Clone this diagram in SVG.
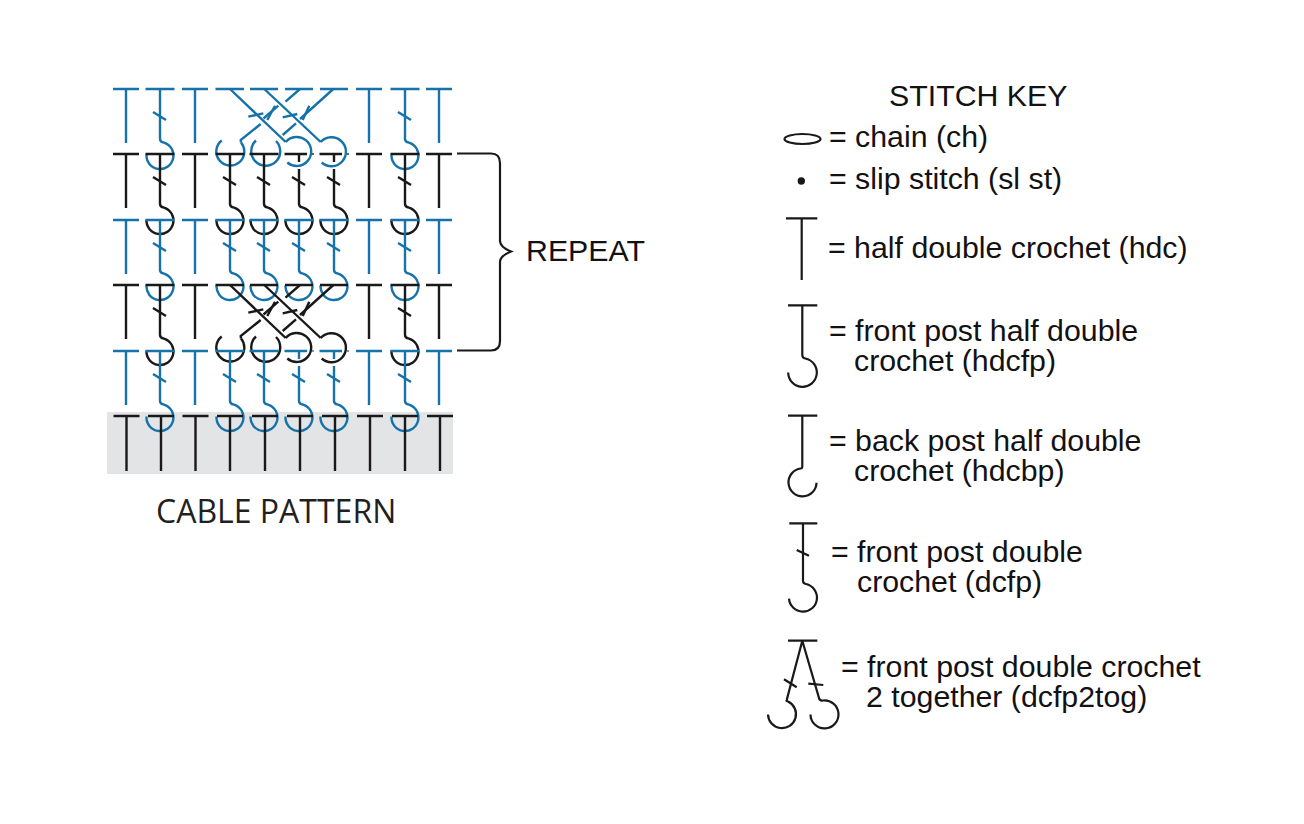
<svg xmlns="http://www.w3.org/2000/svg" width="1304" height="824" viewBox="0 0 1304 824">
<style>
.k{color:#1a1819}
.b{color:#1673a9}
.i{fill:none;stroke:currentColor;stroke-width:2.4}
.d{fill:currentColor;stroke:none}
.t{font-family:"Liberation Sans",Arial,sans-serif;font-size:30.3px;fill:#131112}
.m{font-family:"Open Sans","Noto Sans",sans-serif;font-size:32px;fill:#231f20}
.ink{fill:none;stroke:#1a1819;stroke-width:2.2}
</style>
<defs>
<g id="T"><path class="i" d="M-13 0H13M0 0V54"/></g>
<g id="F"><path class="i" d="M-14.500 0H14.500M0 0V50q0 3 4 3.600A13.500 13.500 0 1 1 -13.500 65.500M-7 23L6 31"/></g>
<g id="P"><path class="i" d="M0 0V55M-13 0H13"/></g>
<g id="H"><path class="i" d="M-14.500 0H8M0 0V8M0 15V50q0 3 4 3.600A13.500 13.500 0 1 1 -13.500 65.500M-7 23L6 31"/><circle class="d" cx="14" cy="0" r="0.900"/></g>
<g id="X">
<path class="i" d="M-14.500 0H14M20 0H48M55 0H83M90 0H118"/>
<path class="i" d="M0 0L55.700 53M34.300 0L90.700 53"/>
<path class="i" d="M70 0L55.500 12.700M48.300 16.700L33.500 29.500M30.700 35L10.700 51L11 53.500M103.300 0L70 30M66 34.300L52.700 46"/>
<path class="i" d="M18.300 27.700L33.300 24.300M37.300 31L45 16.700M52.700 28.300L67.300 25M72.700 31L79.300 16.700"/>
<path class="i" d="M-8.300 51.500A14 14 0 1 0 11 53.500M26 51.500A14.500 14.500 0 1 0 46 52"/>
<path class="i" d="M55.700 53A14.500 14.500 0 1 1 57.300 73.500M90.700 53A14.500 14.500 0 1 1 91.700 73.500"/>
</g>
</defs>
<rect width="1304" height="824" fill="#fff"/>
<rect id="swatch" x="107" y="412" width="346" height="62" fill="#e3e4e6"/>
<g id="chart">
<g id="row-1" class="b"><use href="#T" x="126" y="89"/><use href="#F" x="160" y="89"/><use href="#T" x="195" y="89"/><use href="#X" x="230" y="89"/><use href="#T" x="369" y="89"/><use href="#F" x="405" y="89"/><use href="#T" x="439" y="89"/></g>
<g id="row-2" class="k"><use href="#T" x="126" y="154"/><use href="#F" x="160" y="154"/><use href="#T" x="195" y="154"/><use href="#F" x="230" y="154"/><use href="#F" x="264" y="154"/><use href="#H" x="299" y="154"/><use href="#H" x="334" y="154"/><use href="#T" x="369" y="154"/><use href="#F" x="405" y="154"/><use href="#T" x="439" y="154"/></g>
<g id="row-3" class="b"><use href="#T" x="126" y="220"/><use href="#F" x="160" y="220"/><use href="#T" x="195" y="220"/><use href="#F" x="230" y="220"/><use href="#F" x="264" y="220"/><use href="#F" x="299" y="220"/><use href="#F" x="334" y="220"/><use href="#T" x="369" y="220"/><use href="#F" x="405" y="220"/><use href="#T" x="439" y="220"/></g>
<g id="row-4" class="k"><use href="#T" x="126" y="285"/><use href="#F" x="160" y="285"/><use href="#T" x="195" y="285"/><use href="#X" x="230" y="285"/><use href="#T" x="369" y="285"/><use href="#F" x="405" y="285"/><use href="#T" x="439" y="285"/></g>
<g id="row-5" class="b"><use href="#T" x="126" y="351"/><use href="#F" x="160" y="351"/><use href="#T" x="195" y="351"/><use href="#F" x="230" y="351"/><use href="#F" x="264" y="351"/><use href="#H" x="299" y="351"/><use href="#H" x="334" y="351"/><use href="#T" x="369" y="351"/><use href="#F" x="405" y="351"/><use href="#T" x="439" y="351"/></g>
<g id="row-6" class="k"><use href="#P" x="126.500" y="416"/><use href="#P" x="161" y="416"/><use href="#P" x="195.500" y="416"/><use href="#P" x="230" y="416"/><use href="#P" x="265" y="416"/><use href="#P" x="300" y="416"/><use href="#P" x="335" y="416"/><use href="#P" x="370" y="416"/><use href="#P" x="405" y="416"/><use href="#P" x="440" y="416"/></g>
</g>
<g id="connectors"><path class="ink" d="M457 153.500H491Q500 153.500 500 163V241Q500 247 511 251.500Q500 256 500 262V341Q500 350.500 491 350.500H457"/></g>
<text class="t" x="526" y="260.500">REPEAT</text>
<text class="m" x="156" y="522.500">CABLE PATTERN</text>
<text class="t" x="889" y="105.500">STITCH KEY</text>
<g id="key-ch"><ellipse class="ink" cx="802.500" cy="139" rx="18" ry="5"/><text class="t" x="829" y="147">= chain (ch)</text></g>
<g id="key-slst"><circle cx="801.300" cy="181" r="3.700" fill="#1a1819"/><text class="t" x="829" y="188.500">= slip stitch (sl st)</text></g>
<g id="key-hdc"><path class="ink" d="M786 218.300H817.300M801.700 218.300V280"/><text class="t" x="828" y="258">= half double crochet (hdc)</text></g>
<g id="key-hdcfp"><path class="ink" d="M788 305.300H817.300M802.300 305.300V355q0 3 3 3.500A14.300 14.300 0 1 1 788.200 372.500"/><text class="t" x="829" y="341">= front post half double</text><text class="t" x="854" y="371">crochet (hdcfp)</text></g>
<g id="key-hdcbp"><path class="ink" d="M788 415.700H817.300M802.300 415.700V466q0 2.500 -1.500 2.500A14 14 0 1 0 816.500 482.700"/><text class="t" x="829" y="451">= back post half double</text><text class="t" x="854" y="481">crochet (hdcbp)</text></g>
<g id="key-dcfp"><path class="ink" d="M789.300 523.300H817.300M803 523.300V581q0 2.500 3 3A14 14 0 1 1 789 598.700M796.700 550L809 555.700"/><text class="t" x="831" y="562">= front post double</text><text class="t" x="857" y="592">crochet (dcfp)</text></g>
<g id="key-dcfp2tog"><path class="ink" d="M788 640.700H817.300M802.300 640.700L786.700 700Q786 701.500 788 701.500A14 14 0 1 1 768 714.500M802.300 640.700L819 698Q819.500 701 823 700.500A14 14 0 1 1 810.500 714.500M784 679.300L796.700 687.300M808.300 683.700L823.300 685"/><text class="t" x="841" y="677">= front post double crochet</text><text class="t" x="866" y="707">2 together (dcfp2tog)</text></g>
</svg>
